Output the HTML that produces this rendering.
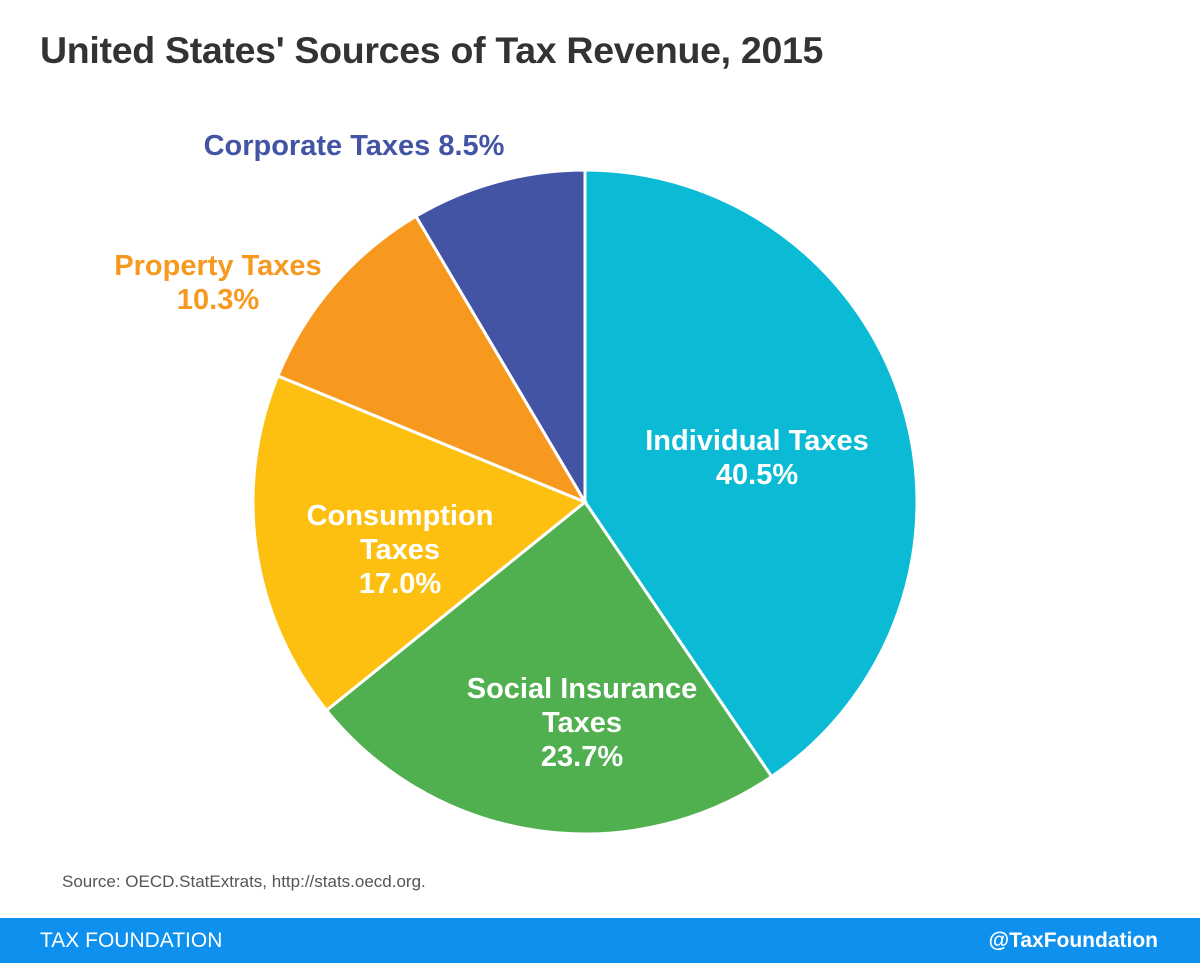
<!DOCTYPE html>
<html><head><meta charset="utf-8"><style>
body{margin:0;width:1200px;height:963px;background:#fff;font-family:"Liberation Sans",sans-serif;position:relative;overflow:hidden}
#title{position:absolute;left:40px;top:29px;font-size:37.5px;font-weight:bold;color:#333;letter-spacing:-0.3px}
#src{position:absolute;left:62px;top:872px;font-size:17px;color:#555}
#footer{position:absolute;left:0;top:918px;width:1200px;height:45px;background:#0e90ee;color:#fff;font-size:21px}
#footer span{position:absolute;top:11px}
</style></head><body>
<div id="title">United States' Sources of Tax Revenue, 2015</div>
<svg id="chart" width="1200" height="963" style="position:absolute;left:0;top:0"></svg>
<div id="src">Source: OECD.StatExtrats, http://stats.oecd.org.</div>
<div id="footer"><span style="left:40px">TAX FOUNDATION</span><span style="right:42px;font-weight:bold">@TaxFoundation</span></div>
<script>
const categories=["Individual Taxes","Social Insurance Taxes","Consumption Taxes","Property Taxes","Corporate Taxes"];
const values=[40.5,23.7,17.0,10.3,8.5];
const colors=["#0bbbd5","#50af4f","#fdc011","#f7991f","#4454a4"];
const labelLines=[["Individual Taxes","40.5%"],["Social Insurance","Taxes","23.7%"],["Consumption","Taxes","17.0%"],["Property Taxes","10.3%"],["Corporate Taxes 8.5%"]];
const labelPos=[[757,450,"#fff"],[582,698,"#fff"],[400,525,"#fff"],[218,275,"#f7991f"],[354,155,"#4454a4"]];
const cx=585,cy=502,r=332;
const svg=document.getElementById('chart');
const NS="http://www.w3.org/2000/svg";
const total=values.reduce((a,b)=>a+b,0);
let a0=0;
function pt(a){return [cx+r*Math.sin(a),cy-r*Math.cos(a)];}
values.forEach((v,i)=>{
  const a1=a0+v/total*2*Math.PI;
  const p0=pt(a0),p1=pt(a1);
  const path=document.createElementNS(NS,'path');
  path.setAttribute('d',`M${cx},${cy}L${p0[0]},${p0[1]}A${r},${r} 0 ${a1-a0>Math.PI?1:0} 1 ${p1[0]},${p1[1]}Z`);
  path.setAttribute('fill',colors[i]);path.setAttribute('stroke','#fff');path.setAttribute('stroke-width','3');
  
  
  svg.appendChild(path);
  a0=a1;
});
labelLines.forEach((lines,i)=>{
  const [x,y,c]=labelPos[i];
  const t=document.createElementNS(NS,'text');
  t.setAttribute('x',x);t.setAttribute('y',y);t.setAttribute('text-anchor','middle');
  t.setAttribute('fill',c);t.setAttribute('font-size','29');t.setAttribute('font-weight','bold');
  t.setAttribute('font-family','Liberation Sans, sans-serif');
  
  
  lines.forEach((l,j)=>{const s=document.createElementNS(NS,'tspan');s.setAttribute('x',x);s.setAttribute('dy',j?34:0);s.textContent=l;t.appendChild(s);});
  svg.appendChild(t);
});
</script>
</body></html>
